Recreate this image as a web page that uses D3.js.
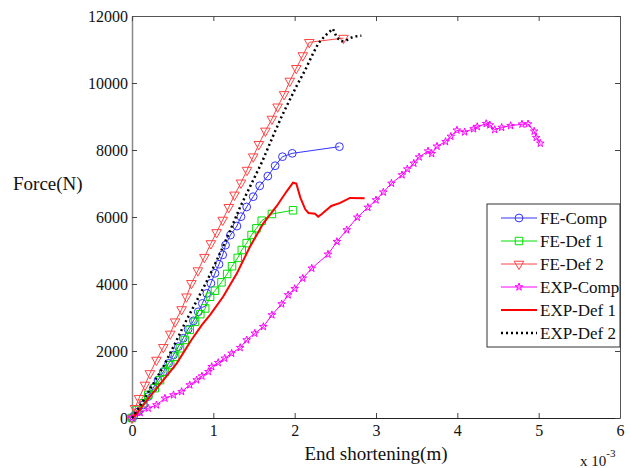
<!DOCTYPE html>
<html>
<head>
<meta charset="utf-8">
<script src="https://cdn.jsdelivr.net/npm/d3@7"></script>
<style>
  body { margin: 0; background: #fff; }
  svg { display: block; font-family: "Liberation Serif", "Times New Roman", serif; }
  svg text { font-family: "Liberation Serif", "Times New Roman", serif; }
</style>
</head>
<body>
<div id="chart"></div>
<script>
// Data (x in 1e-3 m, force in N)
const feComp = [[0,0],[0.02,50],[0.08,190],[0.14,390],[0.20,640],[0.26,890],[0.32,1130],[0.385,1380],[0.45,1630],[0.51,1880],[0.57,2130],[0.63,2380],[0.69,2650],[0.755,2900],[0.815,3170],[0.865,3420],[0.92,3720],[0.97,4020],[1.02,4320],[1.07,4590],[1.115,4870],[1.15,5160],[1.21,5460],[1.29,5730],[1.34,6010],[1.41,6300],[1.49,6606],[1.57,6930],[1.67,7220],[1.76,7530],[1.85,7800],[1.97,7900],[2.55,8100]];
const feDef1 = [[0,0],[0.06,240],[0.14,440],[0.2,690],[0.28,890],[0.345,1130],[0.405,1380],[0.47,1580],[0.53,1830],[0.59,2080],[0.65,2330],[0.71,2630],[0.775,2870],[0.84,3100],[0.90,3270],[0.96,3620],[1.02,3800],[1.10,4050],[1.17,4300],[1.23,4530],[1.30,4780],[1.35,5015],[1.41,5220],[1.47,5463],[1.53,5662],[1.595,5890],[1.72,6090],[1.98,6200]];
const feDef2 = [[0,0],[0.037,290],[0.086,590],[0.16,985],[0.22,1330],[0.30,1730],[0.385,2110],[0.47,2510],[0.53,2875],[0.61,3240],[0.67,3620],[0.73,4020],[0.81,4400],[0.89,4800],[0.97,5210],[1.04,5540],[1.115,5910],[1.19,6290],[1.26,6660],[1.34,7020],[1.414,7400],[1.49,7800],[1.56,8170],[1.64,8570],[1.72,8925],[1.79,9290],[1.87,9660],[1.94,10060],[2.02,10440],[2.10,10820],[2.18,11215],[2.6,11340]];
const expComp = [[0,0],[0.1,160],[0.2,289],[0.30,388],[0.405,588],[0.51,687],[0.61,786],[0.71,985],[0.795,1134],[0.86,1250],[0.94,1383],[0.98,1532],[1.06,1651],[1.14,1781],[1.225,1930],[1.33,2100],[1.41,2328],[1.51,2527],[1.615,2726],[1.72,3075],[1.84,3403],[1.92,3672],[2.0,3860],[2.10,4169],[2.21,4468],[2.41,4886],[2.52,5264],[2.64,5612],[2.77,5990],[2.90,6285],[3.0,6507],[3.09,6740],[3.19,7004],[3.32,7254],[3.385,7430],[3.465,7602],[3.53,7790],[3.64,7965],[3.685,7890],[3.75,8110],[3.855,8249],[3.92,8405],[3.995,8590],[4.09,8537],[4.20,8630],[4.245,8696],[4.355,8786],[4.40,8746],[4.46,8605],[4.545,8672],[4.655,8726],[4.795,8770],[4.87,8776],[4.945,8560],[4.97,8370],[5.02,8200]];
const expDef1 = [[0,0],[0.06,140],[0.22,640],[0.385,1130],[0.55,1630],[0.73,2330],[0.86,2780],[0.96,3080],[1.12,3620],[1.29,4320],[1.45,5110],[1.615,5810],[1.78,6330],[1.90,6760],[1.98,7024],[2.02,7000],[2.07,6580],[2.13,6230],[2.17,6120],[2.25,6100],[2.29,6010],[2.33,6080],[2.45,6330],[2.56,6420],[2.68,6570],[2.86,6557]];
const expDef2 = [[0,0],[0.12,440],[0.24,935],[0.385,1530],[0.51,2130],[0.65,2830],[0.8,3520],[0.94,4180],[1.07,4850],[1.2,5560],[1.33,6300],[1.45,6900],[1.6,7650],[1.74,8450],[1.84,9000],[1.93,9450],[2.03,9940],[2.13,10390],[2.21,10800],[2.29,11180],[2.37,11400],[2.47,11620],[2.52,11350],[2.58,11250],[2.63,11260],[2.68,11340],[2.74,11390],[2.82,11410]];

const xTicks = [0, 1, 2, 3, 4, 5, 6];
const yTicks = [0, 2000, 4000, 6000, 8000, 10000, 12000];

const series = [
  {name: "FE-Comp",  data: feComp,  color: "#3333ff", width: 1, marker: "circle"},
  {name: "FE-Def 1", data: feDef1,  color: "#00e000", width: 1, marker: "square"},
  {name: "FE-Def 2", data: feDef2,  color: "#ff4444", width: 1, marker: "triangle"},
  {name: "EXP-Comp", data: expComp, color: "#ff00ff", width: 1, marker: "star"},
  {name: "EXP-Def 1", data: expDef1, color: "#ff0000", width: 2, marker: null},
  {name: "EXP-Def 2", data: expDef2, color: "#000000", width: 2.5, marker: null, dash: "2,3"}
];

const width = 631, height = 468;
const margin = {top: 16, right: 11, bottom: 50, left: 132};

const svg = d3.select("#chart").append("svg")
  .attr("width", width)
  .attr("height", height);

const x = d3.scaleLinear().domain([0, 6]).range([margin.left, width - margin.right]);
const y = d3.scaleLinear().domain([0, 12000]).range([height - margin.bottom, margin.top]);

function styleTicks(g) {
  g.attr("font-family", null).attr("font-size", null);
  g.selectAll(".tick line").attr("stroke", "#444");
  g.selectAll("text").attr("font-size", 16).attr("fill", "#111");
}

// Axes (ticks inside, MATLAB style)
svg.append("g")
  .attr("transform", `translate(0,${y(0)})`)
  .call(d3.axisBottom(x).tickValues(xTicks).tickFormat(d3.format("d")).tickSizeInner(-5).tickSizeOuter(0).tickPadding(7))
  .call(styleTicks)
  .call(g => g.select(".domain").attr("stroke", "#222"));

svg.append("g")
  .attr("transform", `translate(${x(0)},0)`)
  .call(d3.axisLeft(y).tickValues(yTicks).tickFormat(d3.format("d")).tickSizeInner(-5).tickSizeOuter(0).tickPadding(4))
  .call(styleTicks)
  .call(g => g.select(".domain").attr("stroke", "#888").attr("stroke-width", 1.5));

svg.append("g")
  .attr("transform", `translate(0,${y(12000)})`)
  .call(d3.axisTop(x).tickValues(xTicks).tickFormat("").tickSizeInner(-5).tickSizeOuter(0))
  .call(styleTicks)
  .call(g => g.select(".domain").attr("stroke", "#555"));

svg.append("g")
  .attr("transform", `translate(${x(6)},0)`)
  .call(d3.axisRight(y).tickValues(yTicks).tickFormat("").tickSizeInner(-5).tickSizeOuter(0))
  .call(styleTicks)
  .call(g => g.select(".domain").attr("stroke", "#555"));

// Markers
function markerPath(type) {
  if (type === "circle") return d3.symbol(d3.symbolCircle, 48)();
  if (type === "square") return d3.symbol(d3.symbolSquare, 56)();
  if (type === "triangle") return d3.symbol(d3.symbolTriangle, 40)();
  if (type === "star") return d3.symbol(d3.symbolStar, 18)();
  return null;
}

const line = d3.line().x(d => x(d[0])).y(d => y(d[1]));

series.forEach(s => {
  svg.append("path")
    .datum(s.data)
    .attr("fill", "none")
    .attr("stroke", s.color)
    .attr("stroke-width", s.width)
    .attr("stroke-dasharray", s.dash || null)
    .attr("d", line);

  if (s.marker) {
    const rot = s.marker === "triangle" ? " rotate(180)" : "";
    svg.append("g").selectAll("path")
      .data(s.data)
      .join("path")
      .attr("transform", d => `translate(${x(d[0])},${y(d[1])})${rot}`)
      .attr("d", markerPath(s.marker))
      .attr("fill", "none")
      .attr("stroke", s.color)
      .attr("stroke-width", 1);
  }
});

// Axis titles
svg.append("text")
  .attr("x", 376).attr("y", 460)
  .attr("text-anchor", "middle")
  .attr("font-size", 19)
  .attr("fill", "#111")
  .text("End shortening(m)");

svg.append("text")
  .attr("x", 13).attr("y", 190)
  .attr("font-size", 19)
  .attr("fill", "#111")
  .text("Force(N)");

const exp = svg.append("text")
  .attr("x", 580).attr("y", 466)
  .attr("font-size", 15)
  .attr("fill", "#111");
exp.append("tspan").text("x 10");
exp.append("tspan").attr("dy", -9).attr("font-size", 11).text("-3");

// Legend
const legend = svg.append("g").attr("transform", "translate(487,204)");
legend.append("rect")
  .attr("width", 133).attr("height", 143)
  .attr("fill", "#fff")
  .attr("stroke", "#333");

series.forEach((s, i) => {
  const ly = 14 + i * 23;
  legend.append("line")
    .attr("x1", 14).attr("x2", 50)
    .attr("y1", ly).attr("y2", ly)
    .attr("stroke", s.color)
    .attr("stroke-width", s.width)
    .attr("stroke-dasharray", s.dash || null);
  if (s.marker) {
    legend.append("path")
      .attr("transform", `translate(32,${ly})` + (s.marker === "triangle" ? " rotate(180)" : ""))
      .attr("d", markerPath(s.marker))
      .attr("fill", "none")
      .attr("stroke", s.color);
  }
  legend.append("text")
    .attr("x", 53).attr("y", ly + 6)
    .attr("font-size", 17)
    .attr("fill", "#111")
    .text(s.name);
});
</script>
</body>
</html>
